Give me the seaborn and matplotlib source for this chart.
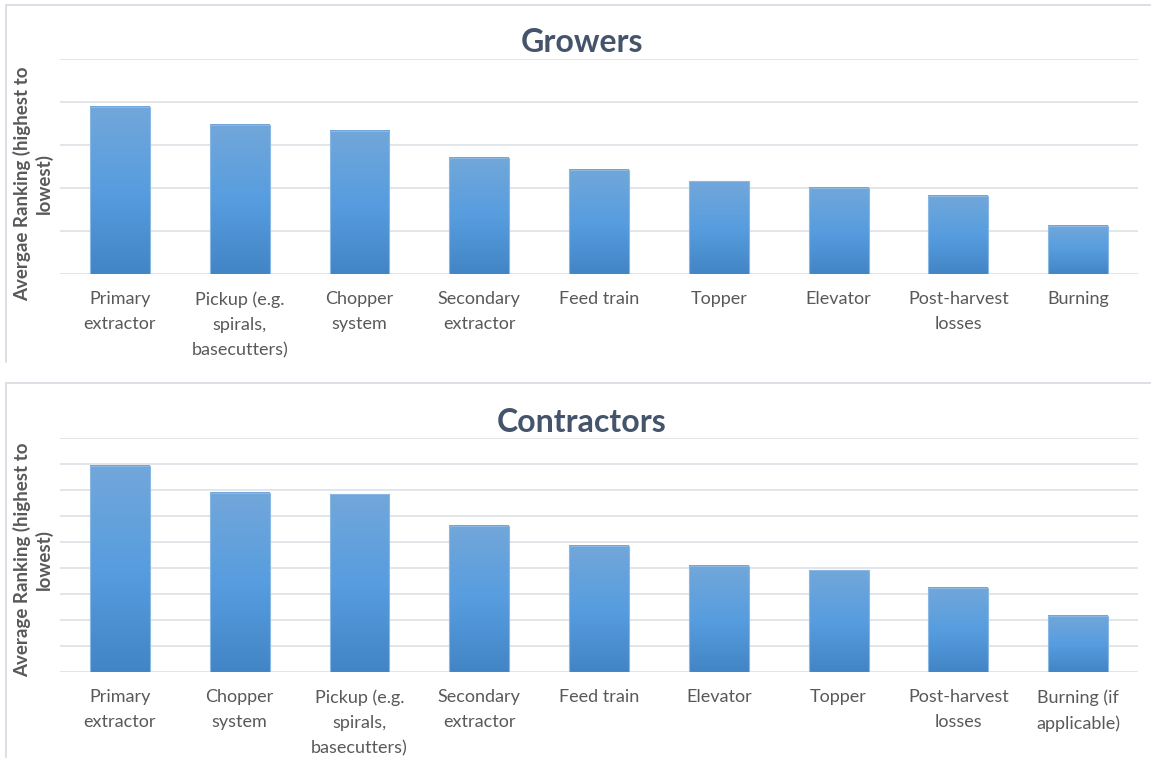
import numpy as np
import pandas as pd
import matplotlib
matplotlib.use("Agg")
import matplotlib.pyplot as plt
from matplotlib.colors import LinearSegmentedColormap
from matplotlib.lines import Line2D
import seaborn as sns

# Average ranking of loss sources, growers
grower_labels = ["Primary\nextractor", "Pickup (e.g.\nspirals,\nbasecutters)", "Chopper\nsystem",
                 "Secondary\nextractor", "Feed train", "Topper", "Elevator",
                 "Post-harvest\nlosses", "Burning"]
grower_values = [3.90, 3.48, 3.33, 2.70, 2.43, 2.16, 2.01, 1.82, 1.12]

# Average ranking of loss sources, contractors
contractor_labels = ["Primary\nextractor", "Chopper\nsystem", "Pickup (e.g.\nspirals,\nbasecutters)",
                     "Secondary\nextractor", "Feed train", "Elevator", "Topper",
                     "Post-harvest\nlosses", "Burning (if\napplicable)"]
contractor_values = [3.97, 3.45, 3.42, 2.82, 2.43, 2.05, 1.96, 1.63, 1.09]

sns.set_theme(style="white")
plt.rcParams["font.family"] = ["Lato", "DejaVu Sans"]

W, H = 1151, 758
fig = plt.figure(figsize=(W / 100, H / 100), dpi=100)
fig.patch.set_facecolor("white")

GRID = "#dde1e7"
TICK = "#595959"
TITLE = "#44546a"
bar_cmap = LinearSegmentedColormap.from_list("bar", ["#4285c6", "#579ddf", "#72a7da"])


def px_box(left, top, right, bottom):
    return [left / W, 1 - bottom / H, (right - left) / W, (bottom - top) / H]


def gradient_bars(ax):
    grad = np.linspace(0, 1, 256).reshape(-1, 1)
    for p in ax.patches:
        x0, w, h = p.get_x(), p.get_width(), p.get_height()
        ax.imshow(grad, extent=[x0, x0 + w, 0, h], origin="lower", aspect="auto",
                  cmap=bar_cmap, zorder=p.get_zorder() + 0.1, interpolation="bicubic")
        p.set_edgecolor("#8ab8e4")
        p.set_linewidth(0.8)
        p.set_zorder(p.get_zorder() + 0.2)
        p.set_facecolor("none")


def draw_panel(box, labels, values, ymax, step, title, ylabel, title_y, ylab_y):
    ax = fig.add_axes(box)
    df = pd.DataFrame({"item": labels, "value": values})
    sns.barplot(data=df, x="item", y="value", ax=ax, width=0.5, color="#5b9bd5",
                saturation=1, zorder=2)
    gradient_bars(ax)
    ax.set_xlim(-0.5, len(labels) - 0.5)
    ax.set_ylim(0, ymax)
    ax.set_yticks(np.arange(0, ymax + step / 2, step))
    ax.yaxis.grid(True, color=GRID, linewidth=1.2)
    ax.set_axisbelow(True)
    for s in ax.spines.values():
        s.set_visible(False)
    ax.set_yticklabels([])
    ax.tick_params(axis="y", length=0)
    ax.tick_params(axis="x", length=0, pad=12, labelsize=13, labelcolor=TICK)
    for t in ax.get_xticklabels():
        t.set_linespacing(1.7)
    ax.set_xlabel("")
    ax.set_ylabel("")
    fig.text(582 / W, 1 - title_y / H, title, ha="center", va="center",
             fontsize=23, fontweight="bold", color=TITLE)
    fig.text(33 / W, 1 - ylab_y / H, ylabel, ha="center", va="center", rotation=90,
             fontsize=13.5, fontweight="bold", color=TICK, linespacing=1.3,
             multialignment="center")
    return ax


draw_panel(px_box(60, 59.3, 1138, 274.3), grower_labels, grower_values, 5, 1,
           "Growers", "Avergae Ranking (highest to\nlowest)", 43, 184)
draw_panel(px_box(60, 438.3, 1138, 672.3), contractor_labels, contractor_values, 4.5, 0.5,
           "Contractors", "Average Ranking (highest to\nlowest)", 422, 560)

# Chart area frames
BORDER = "#d9dde4"
def px_line(xs, ys):
    fig.add_artist(Line2D([x / W for x in xs], [1 - y / H for y in ys],
                          color=BORDER, linewidth=1.3))

px_line([5.5, 1151], [4.5, 4.5])
px_line([5.5, 5.5], [4.5, 362])
px_line([5.5, 1151], [383.5, 383.5])
px_line([5.5, 5.5], [383.5, 758])

fig.savefig("out.png", dpi=100, facecolor="white")
